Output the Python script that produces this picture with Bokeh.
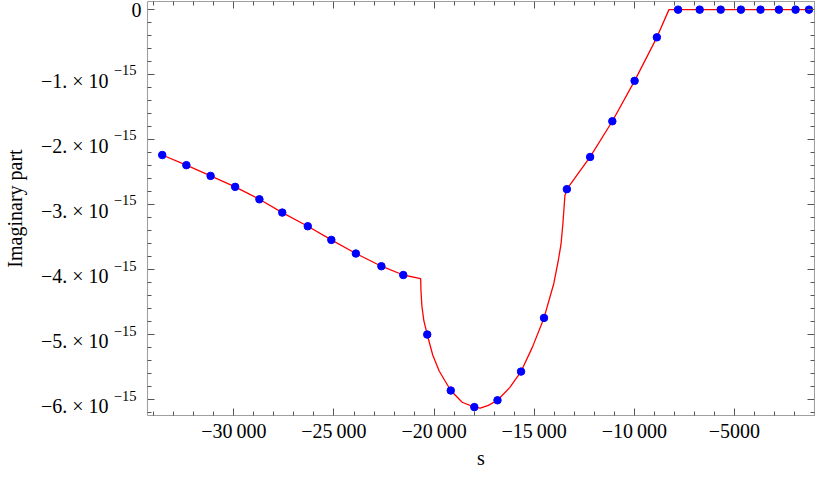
from bokeh.plotting import figure
from bokeh.models import LinearAxis, FixedTicker, Range1d
from bokeh.embed import file_html
from bokeh.resources import INLINE

# ---- data (imaginary part in units of 1e-15) ----
marker_s = [-33578, -32373, -31162, -29936, -28725, -27583, -26309, -25132, -23907,
            -22632, -21539, -20343, -19167, -17990, -16833, -15657, -14510, -13368,
            -12206, -11098, -9985, -8873, -7814, -6735, -5686, -4676, -3696, -2779,
            -1946, -1275]
marker_v = [-2.235, -2.391, -2.556, -2.725, -2.916, -3.120, -3.33, -3.54, -3.75,
            -3.945, -4.080, -4.995, -5.856, -6.111, -6.006, -5.565, -4.740, -2.760,
            -2.265, -1.716, -1.095, -0.426, 0, 0, 0, 0, 0, 0, 0, 0]

curve_s = [-33578, -32373, -31162, -29936, -28725, -27583, -26309, -25132, -23907,
           -22632, -21539, -20671, -20657, -20608, -20510, -20343, -20069, -19740,
           -19167, -18598, -17990, -17696, -17289, -16833, -16225, -15657, -15083,
           -14510, -14020, -13809, -13662, -13564, -13466, -13368, -12206, -11098,
           -9985, -8873, -8269, -1110]
curve_v = [-2.235, -2.391, -2.556, -2.725, -2.916, -3.120, -3.33, -3.54, -3.75,
           -3.945, -4.080, -4.135, -4.311, -4.560, -4.785, -4.995, -5.310, -5.560,
           -5.856, -6.036, -6.111, -6.126, -6.085, -6.006, -5.811, -5.565, -5.185,
           -4.740, -4.210, -3.880, -3.610, -3.280, -2.860, -2.760, -2.265, -1.716,
           -1.095, -0.426, 0, 0]

xtick_vals = [-30000, -25000, -20000, -15000, -10000, -5000]
xtick_text = ["\u221230\u2009000", "\u221225\u2009000", "\u221220\u2009000",
              "\u221215\u2009000", "\u221210\u2009000", "\u22125000"]
xminor_vals = [v for v in range(-34000, 0, 1000) if v % 5000 != 0]
ytick_vals = [0, -1, -2, -3, -4, -5, -6]
ytick_main = ["\u22121. \u00d7 10", "\u22122. \u00d7 10", "\u22123. \u00d7 10",
              "\u22124. \u00d7 10", "\u22125. \u00d7 10", "\u22126. \u00d7 10"]
ytick_exp = ["\u221215"] * 6
yminor_vals = [round(-0.2 * i, 1) for i in range(0, 32) if i % 5 != 0]

X_LO, X_HI = -34314, -1000
Y_LO, Y_HI = -6.24, 0.125

FONT = "Liberation Serif"
FRAME = "#a0a0a0"
TICK = "#555555"

W, H = 815, 472
BL, BR, BT, BB = 136, 1, 1, 57
FRAME_H = H - BT - BB
K = (Y_HI - Y_LO) / FRAME_H   # data units per pixel (vertical)

p = figure(width=W, height=H, output_backend="svg", toolbar_location=None,
           x_range=Range1d(X_LO, X_HI), y_range=Range1d(Y_LO, Y_HI),
           x_axis_location=None, y_axis_location=None,
           min_border_left=BL, min_border_right=BR, min_border_top=BT,
           min_border_bottom=BB)
p.xgrid.visible = False
p.ygrid.visible = False
p.outline_line_color = None
p.background_fill_color = "white"
p.extra_y_ranges = {
    "sup": Range1d(Y_LO - 4.3 * K, Y_HI - 4.3 * K),
    "main": Range1d(Y_LO + 6 * K, Y_HI + 6 * K),
}


def tick_axis(panel, minor, length, line=False, fixed=None):
    ax = LinearAxis(ticker=FixedTicker(ticks=[], minor_ticks=minor))
    ax.axis_line_color = FRAME if line else None
    ax.axis_line_width = 1.1
    ax.major_tick_line_color = None
    ax.minor_tick_line_color = TICK
    ax.minor_tick_in = length
    ax.minor_tick_out = 0
    ax.major_label_standoff = 0
    if fixed is not None:
        ax.fixed_location = fixed
    p.add_layout(ax, panel)
    return ax


def label_axis(panel, ticks, overrides, size, standoff, range_name=None):
    kw = {"y_range_name": range_name} if range_name else {}
    ax = LinearAxis(ticker=FixedTicker(ticks=ticks, minor_ticks=[]), **kw)
    ax.axis_line_color = None
    ax.major_tick_line_color = None
    ax.minor_tick_line_color = None
    ax.major_tick_in = 0
    ax.major_tick_out = 0
    ax.major_label_overrides = overrides
    ax.major_label_text_font = FONT
    ax.major_label_text_font_size = size
    ax.major_label_text_color = "black"
    ax.major_label_standoff = standoff
    p.add_layout(ax, panel)
    return ax


# ---- frame: left ----
tick_axis("left", yminor_vals, 4, line=True)
tick_axis("left", ytick_vals, 7, fixed=X_LO)

# ---- y tick labels stacked outward: "0", superscript exponent, mantissa ----
label_axis("left", [0], {0: "0"}, "20px", 6)
label_axis("left", ytick_vals[1:], {v: t for v, t in zip(ytick_vals[1:], ytick_exp)},
           "14.5px", -8, "sup")
ya = label_axis("left", ytick_vals[1:],
                {v: t for v, t in zip(ytick_vals[1:], ytick_main)},
                "20px", 2, "main")
ya.axis_label = "Imaginary part"
ya.axis_label_text_font = FONT
ya.axis_label_text_font_size = "20px"
ya.axis_label_text_font_style = "normal"
ya.axis_label_text_color = "black"
ya.axis_label_standoff = 12

# ---- frame: right / top ----
tick_axis("right", yminor_vals, 4, line=True)
tick_axis("right", ytick_vals, 7, fixed=X_HI)
tick_axis("above", xminor_vals, 4, line=True)
tick_axis("above", xtick_vals, 7, fixed=Y_HI)

# ---- frame: bottom with labels and title ----
xa = LinearAxis(ticker=FixedTicker(ticks=xtick_vals, minor_ticks=xminor_vals))
xa.axis_line_color = FRAME
xa.axis_line_width = 1.1
xa.major_tick_line_color = TICK
xa.minor_tick_line_color = TICK
xa.major_tick_in = 7
xa.major_tick_out = 0
xa.minor_tick_in = 4
xa.minor_tick_out = 0
xa.major_label_overrides = {v: t for v, t in zip(xtick_vals, xtick_text)}
xa.major_label_text_font = FONT
xa.major_label_text_font_size = "20px"
xa.major_label_text_color = "black"
xa.major_label_standoff = 4
xa.axis_label = "s"
xa.axis_label_text_font = FONT
xa.axis_label_text_font_size = "20px"
xa.axis_label_text_font_style = "normal"
xa.axis_label_text_color = "black"
xa.axis_label_standoff = 2
p.add_layout(xa, "below")

# ---- curve and points ----
p.line(curve_s, curve_v, line_color="#ff0000", line_width=1.3)
p.scatter(marker_s, marker_v, size=7.5, fill_color="#0000ff", line_color="#0000ff")

open("out.html", "w").write(file_html(p, INLINE))
